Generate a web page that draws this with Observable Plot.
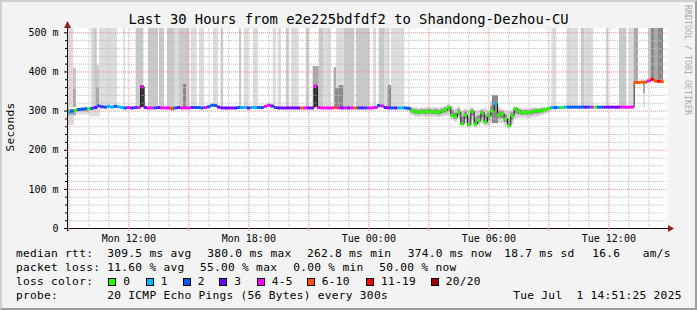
<!DOCTYPE html>
<html>
<head>
<meta charset="utf-8">
<script src="https://cdn.jsdelivr.net/npm/d3@7"></script>
<script src="https://cdn.jsdelivr.net/npm/@observablehq/plot@0.6"></script>
<style>
html,body{margin:0;padding:0;background:#f3f3f3;}
#wrap{position:relative;width:697px;height:310px;background:#f3f3f3;overflow:hidden;font-family:"DejaVu Sans Mono",monospace;color:#000;}
#wrap svg{position:absolute;left:0;top:0;}
.bord{position:absolute;left:0;top:0;width:697px;height:310px;box-sizing:border-box;border-style:solid;border-width:2px;border-color:#cfcfcf #9e9e9e #9e9e9e #cfcfcf;pointer-events:none;}
.t{position:absolute;white-space:pre;font-size:11.2px;letter-spacing:0.28px;line-height:14px;height:14px;}
.sw{position:absolute;width:6px;height:6px;border:1px solid #000;top:278px;}
#title{position:absolute;left:0;top:11px;width:697px;text-align:center;font-size:13.8px;line-height:16px;white-space:pre;}
#ylab{position:absolute;left:11px;top:127px;transform:translate(-50%,-50%) rotate(-90deg);font-size:11.2px;letter-spacing:0.28px;white-space:pre;line-height:14px;}
#wm{position:absolute;left:683px;top:5px;writing-mode:vertical-rl;font-size:8.3px;line-height:10px;color:#aaa;white-space:pre;}
</style>
</head>
<body>
<div id="wrap"></div>
<script>
// ---------- data ----------
const titleText = "Last 30 Hours from e2e225bdfdf2 to Shandong-Dezhou-CU";
const startTime = new Date(2025, 5, 30, 8, 56);
const endTime = new Date(2025, 6, 1, 14, 56);
const binMinutes = 10;

// median rtt (ms), one value per 10-minute bin
const rtt = [
 297,300,302,304,305,306,306,307,309,313,
 311,310,312,310,312,311,309,308,309,308,
 309,309,362,309,308,308,308,309,308,308,
 308,307,308,309,308,308,308,309,309,309,
 308,309,311,315,314,310,308,308,308,308,
 308,309,309,309,308,309,309,309,309,312,
 315,313,309,308,308,308,308,308,308,308,
 308,308,308,308,364,309,308,308,308,308,
 309,308,308,308,308,308,308,308,308,308,
 308,308,309,314,313,309,308,308,308,308,
 308,308,307,301,298,297,299,298,300,297,
 299,296,300,303,309,290,285,297,268,290,
 265,299,267,276,296,272,289,300,319,290,
 293,280,263,289,306,300,296,297,296,298,
 301,300,302,304,307,309,309,309,309,310,
 310,310,310,310,310,310,310,310,310,310,
 310,310,310,310,310,310,310,310,310,310,
 373,373,374,374,377,381,377,376,375,null];

// lost pings (of 20) per bin
const loss = [
 1,2,0,2,2,2,0,2,3,2,
 3,2,1,1,2,1,1,2,4,3,
 2,4,4,3,4,4,2,3,4,4,
 4,7,2,3,4,4,4,3,2,2,
 2,4,2,2,2,3,3,3,3,3,
 3,2,1,1,3,1,1,2,2,4,
 4,3,2,3,3,3,3,3,3,3,
 7,4,3,3,4,4,4,4,4,4,
 7,4,3,4,3,4,7,2,3,2,
 4,4,4,2,4,3,3,2,3,1,
 1,2,2,0,0,0,0,0,0,0,
 0,0,0,0,0,0,0,0,0,0,
 0,0,0,0,0,0,0,0,1,0,
 0,0,0,0,0,0,0,0,0,0,
 0,0,0,0,0,1,2,1,0,1,
 2,2,2,2,2,3,2,4,0,2,
 2,3,3,3,3,3,4,4,4,4,
 7,7,7,7,5,12,7,12,7,null];

const lossClasses = ["0","1","2","3","4-5","6-10","11-19","20/20"];
const lossColors = ["#26ff00","#00b8ff","#0059ff","#7000ff","#ff00ff","#ff5500","#ff0000","#a10000"];

// smoke envelope for the noisy stretch (bins 102..147)
const noisyStart = 102;
const smokeLo = [300,288,285,284,285,284,285,284,284,283,
 285,287,288,278,272,280,260,268,258,275,
 258,262,268,262,262,268,275,270,268,262,
 255,265,280,282,282,282,281,282,284,285,
 288,292,296,302,303,305];
const smokeHi = [310,309,308,307,308,308,309,308,309,308,
 310,312,316,312,305,310,300,305,302,308,
 300,300,305,306,300,325,340,310,304,300,
 298,302,310,308,306,306,306,307,308,308,
 309,309,310,310,310,310];

// smoke bars: [start minute, end minute, low ms, high ms, density 1..5]
const smokeBars = [
 [0,21,263,300,1],[0,27,288,304,3],[21,69,290,305,1],[27,63,298,305,3],[69,99,285,307,1],
 [5,18,309,511,1],[18,27,309,409,2],[18,26,309,355,3],
 [71,89,309,511,1],[80,89,309,511,2],[87,96,309,416,2],[87,96,309,360,3],
 [96,150,309,511,1],[169,174,309,511,1],[206,229,309,511,2],[219,231,309,364,5],
 [243,273,309,511,2],[276,291,309,511,2],[300,321,309,511,2],[311,321,300,308,4],
 [321,336,309,511,1],[336,366,309,511,2],[348,357,309,368,4],[371,389,309,511,1],
 [396,411,309,511,1],[438,453,309,511,1],[461,468,309,511,2],[516,522,309,511,2],
 [531,543,309,511,1],[558,573,309,511,1],
 [617,627,309,511,1],[632,642,309,511,1],[657,665,309,511,2],[672,695,309,511,1],
 [717,725,309,511,2],[737,755,309,414,3],[740,752,309,362,5],[755,769,309,511,2],
 [769,792,309,511,1],[800,807,309,411,3],[807,829,309,511,1],[804,815,309,357,4],
 [815,829,309,365,4],[830,862,309,511,2],[867,907,309,511,2],[918,927,309,511,1],
 [935,952,309,511,2],[952,967,309,511,1],[962,972,309,365,4],[972,1012,309,511,1],
 [1275,1293,268,340,4],
 [1453,1468,309,511,1],[1498,1533,309,511,1],[1541,1551,309,511,2],[1551,1578,309,511,1],
 [1618,1623,309,511,2],[1656,1678,309,511,2],[1686,1700,309,511,1],[1700,1713,374,511,3],
 [1743,1751,376,511,2],[1751,1761,378,511,4],[1761,1773,376,511,3],[1773,1788,375,511,4],
 [1728,1734,345,374,3],[1730,1732,308,345,3]
];
const smokeShades = ["#dcdcdc","#c9c9c9","#a9a9a9","#8a8a8a","#3c3c3c"];

const yTicks = [0,100,200,300,400,500];
const xLabelTimes = [new Date(2025,5,30,12), new Date(2025,5,30,18), new Date(2025,6,1,0), new Date(2025,6,1,6), new Date(2025,6,1,12)];

const rttStats = ["median rtt:","309.5 ms avg","380.0 ms max","262.8 ms min","374.0 ms now","18.7 ms sd","16.6","am/s"];
const lossStats = ["packet loss:","11.60 % avg","55.00 % max","0.00 % min","50.00 % now"];
const probeText = ["probe:","20 ICMP Echo Pings (56 Bytes) every 300s","Tue Jul  1 14:51:25 2025"];

// ---------- build ----------
const at = m => new Date(+startTime + m * 60000);
function lossClass(n){ if(n==null) return null; if(n<=3) return lossClasses[n]; if(n<=5) return "4-5"; if(n<=10) return "6-10"; if(n<=19) return "11-19"; return "20/20"; }
const rows = rtt.map((v,i)=>({t0: at(i*binMinutes), t1: at((i+1)*binMinutes), t: at(i*binMinutes + binMinutes/2), rtt: v, cls: lossClass(loss[i])}));
const noisy = smokeLo.map((lo,k)=>Object.assign({}, rows[noisyStart+k], {lo, hi: smokeHi[k]}));

const hours = d3.timeHour.range(startTime, endTime);
const majorHours = hours.filter(d=>d.getHours()%3===0);
const minorHours = hours.filter(d=>d.getHours()%3!==0);
const minorY = d3.range(20, 511, 20).filter(v=>v%100!==0);
const majorY = [100,200,300,400,500];

const marks = [
  Plot.frame({fill:"white", stroke:"none"}),
  Plot.rect(noisy, {x1:"t0", x2:"t1", y1:"lo", y2:"hi", fill:"#d2d2d2"}),
  Plot.rect(noisy, {x1:"t0", x2:"t1", y1:d=>(d.lo+d.rtt)/2, y2:d=>(d.hi+d.rtt)/2, fill:"#8e8e8e"}),
  ...[1,2,3,4,5].map(l => Plot.rect(smokeBars.filter(b=>b[4]===l), {x1:b=>at(b[0]), x2:b=>at(b[1]), y1:b=>b[2], y2:b=>b[3], fill: smokeShades[l-1]})),
  Plot.ruleX(minorHours, {stroke:"#c0c0c0", strokeDasharray:"1,1"}),
  Plot.ruleY(minorY, {stroke:"#c0c0c0", strokeDasharray:"1,1"}),
  Plot.ruleX(majorHours, {stroke:"#f08a8a", strokeDasharray:"1,1"}),
  Plot.ruleY(majorY, {stroke:"#f08a8a", strokeDasharray:"1,1"}),
  Plot.line(rows, {x:"t", y:"rtt", curve:"step", stroke:"#202020", strokeWidth:1}),
  Plot.ruleY(rows.filter(d=>d.rtt!=null), {y:"rtt", x1:"t0", x2:"t1", stroke:"cls", strokeWidth:3}),
  Plot.ruleY([0], {x1:()=>at(-9), x2:()=>at(1803), stroke:"#111"}),
  Plot.ruleX([startTime], {y1:-8, y2:511, stroke:"#111"}),
  Plot.axisX(xLabelTimes, {tickSize:0, tickPadding:6, tickFormat:d3.timeFormat("%a %H:%M"), label:null}),
  Plot.axisX(majorHours, {tickSize:3, tickFormat:()=>"", stroke:"#f08a8a", label:null}),
  Plot.axisY(yTicks, {tickSize:3, tickPadding:6, tickFormat:d=>d===0?"0":d+" m", label:null}),
  Plot.axisY(minorY, {tickSize:2, tickFormat:()=>"", label:null})
];

const chart = Plot.plot({
  width: 697, height: 310,
  marginLeft: 67, marginRight: 30, marginTop: 28, marginBottom: 82,
  x: {type:"time", domain:[startTime, endTime], label:null},
  y: {domain:[0,511], label:null},
  color: {domain: lossClasses, range: lossColors},
  style: {background:"transparent", fontFamily:"'DejaVu Sans Mono', monospace", fontSize:"10px", color:"#000", overflow:"visible"},
  marks
});

const wrap = document.getElementById("wrap");
wrap.appendChild(chart);

// arrow heads on the axes (positions from the plot's own scales)
const sx = chart.scale("x"), sy = chart.scale("y");
const fx = sx.apply ? v=>sx.apply(v) : d3.scaleTime(sx.domain, sx.range);
const fy = sy.apply ? v=>sy.apply(v) : d3.scaleLinear(sy.domain, sy.range);
const svg = d3.select(chart);
const ax = fx(startTime)+0.5, ay = fy(511);
svg.append("path").attr("d",`M${ax},${ay-7}L${ax-3.5},${ay}L${ax+3.5},${ay}Z`).style("fill","#8f1f1f").style("stroke","none");
const rx = fx(at(1803)), ry = fy(0)+0.5;
svg.append("path").attr("d",`M${rx+6},${ry}L${rx},${ry-3.5}L${rx},${ry+3.5}Z`).style("fill","#8f1f1f").style("stroke","none");

// ---------- texts ----------
function addDiv(cls, text, left, top){ const d=document.createElement("div"); d.className=cls; d.textContent=text; d.style.left=left+"px"; d.style.top=top+"px"; wrap.appendChild(d); return d; }
const title = document.createElement("div"); title.id="title"; title.textContent=titleText; wrap.appendChild(title);
const ylab = document.createElement("div"); ylab.id="ylab"; ylab.textContent="Seconds"; wrap.appendChild(ylab);
const wm = document.createElement("div"); wm.id="wm"; wm.textContent="RRDTOOL / TOBI OETIKER"; wrap.appendChild(wm);

const row1X = [16,107.3,207.3,307,407.7,504.3,592.3,642.7];
rttStats.forEach((s,i)=>addDiv("t", s, row1X[i], 247));
const row2X = [16,107.3,200,293.3,379.3];
lossStats.forEach((s,i)=>addDiv("t", s, row2X[i], 261));
addDiv("t", "loss color:", 16, 275);
const swX = [108.3,145.7,182.7,219.3,256.7,306.7,366,430.7];
lossClasses.forEach((c,i)=>{
  const sw = addDiv("sw", "", swX[i], 278);
  sw.style.background = lossColors[i];
  addDiv("t", c, swX[i]+15, 275);
});
const row4X = [16,107.3,513.3];
probeText.forEach((s,i)=>addDiv("t", s, row4X[i], 289));

const b = document.createElement("div"); b.className="bord"; wrap.appendChild(b);
</script>
</body>
</html>
